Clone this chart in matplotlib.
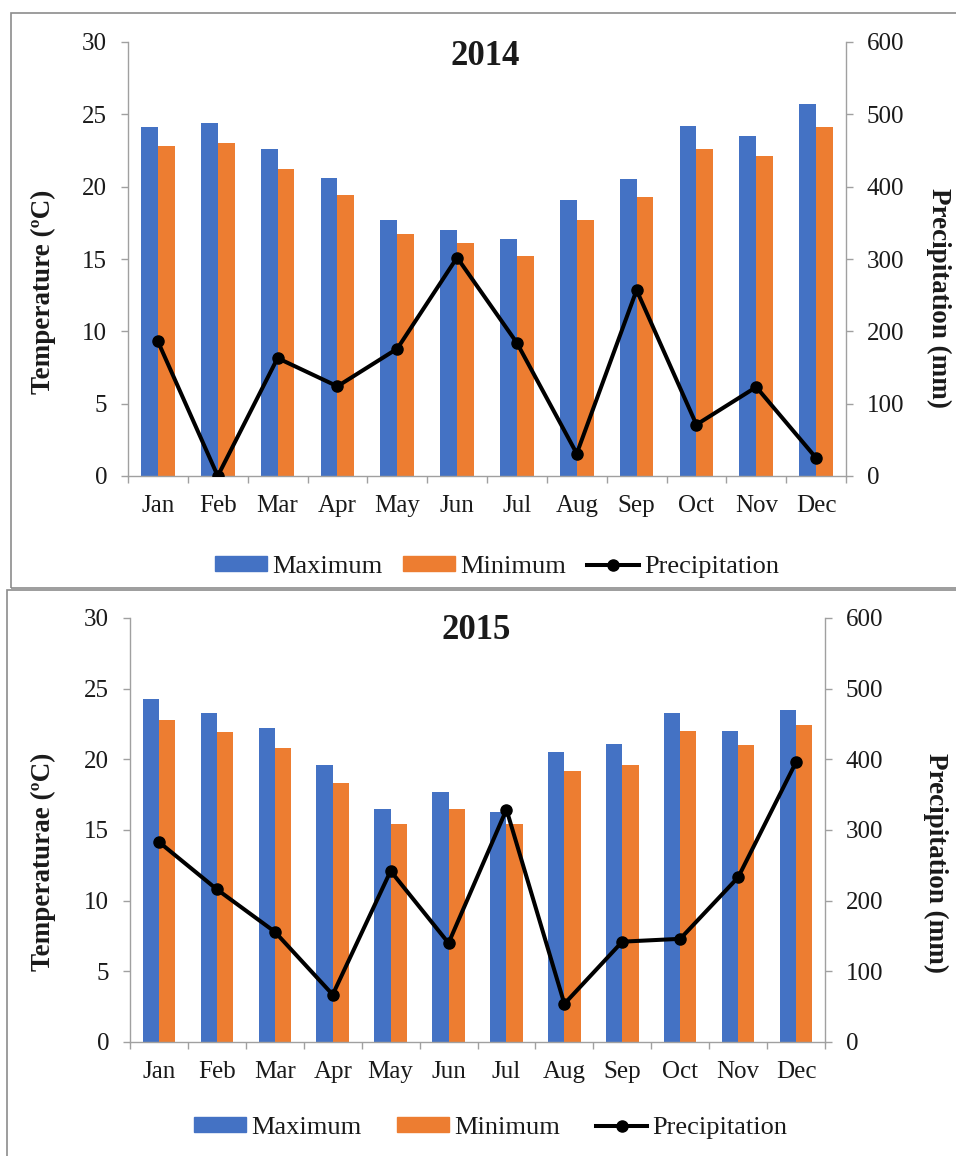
import matplotlib

matplotlib.use("Agg")
import matplotlib.lines as mlines
import matplotlib.patches as mpatches
import matplotlib.pyplot as plt
import numpy as np

MONTHS = ["Jan", "Feb", "Mar", "Apr", "May", "Jun", "Jul", "Aug", "Sep", "Oct", "Nov", "Dec"]

TMAX_2014 = [24.1, 24.4, 22.6, 20.6, 17.7, 17.0, 16.4, 19.1, 20.5, 24.2, 23.5, 25.7]
TMIN_2014 = [22.8, 23.0, 21.2, 19.4, 16.7, 16.1, 15.2, 17.7, 19.3, 22.6, 22.1, 24.1]
PREC_2014 = [186, 0, 163, 124, 176, 302, 184, 31, 257, 71, 123, 25]

TMAX_2015 = [24.3, 23.3, 22.2, 19.6, 16.5, 17.7, 16.3, 20.5, 21.1, 23.3, 22.0, 23.5]
TMIN_2015 = [22.8, 21.9, 20.8, 18.3, 15.4, 16.5, 15.4, 19.2, 19.6, 22.0, 21.0, 22.4]
PREC_2015 = [283, 216, 156, 67, 242, 140, 329, 54, 142, 146, 233, 396]

BLUE = "#4472C4"
ORANGE = "#ED7D31"
GRAY = "#a0a0a0"
TXT = "#1a1a1a"

W, H = 956, 1156
plt.rcParams["font.family"] = ["Liberation Serif", "DejaVu Serif"]


def fx(px):
    return px / W


def fy(py):
    return 1 - py / H


def fig_rect(x0, y0, x1, y1):
    # pixel box (top-left origin) -> figure fraction [left, bottom, width, height]
    return [x0 / W, 1 - y1 / H, (x1 - x0) / W, (y1 - y0) / H]


def draw_panel(fig, box, title, title_xy, ylabel, ylabel_xy, rlabel_xy,
               tmax, tmin, prec, legend_xy, colspace):
    ax = fig.add_axes(fig_rect(*box))
    x = np.arange(len(MONTHS))
    w = 0.28
    ax.bar(x - w / 2, tmax, w, color=BLUE, label="Maximum", zorder=2)
    ax.bar(x + w / 2, tmin, w, color=ORANGE, label="Minimum", zorder=2)
    ax.set_xlim(-0.5, 11.5)
    ax.set_ylim(0, 30)
    ax.set_yticks(range(0, 31, 5))
    ax.set_xticks(x)
    ax.set_xticklabels(MONTHS)
    ax.set_xticks(np.arange(-0.5, 12, 1), minor=True)
    ax.tick_params(axis="x", which="major", length=0, pad=14, labelsize=18, labelcolor=TXT)
    ax.tick_params(axis="x", which="minor", length=5, width=1, color=GRAY, direction="out")
    ax.tick_params(axis="y", length=5, width=1, color=GRAY, pad=10, labelsize=18, labelcolor=TXT)
    for s in ["top", "right"]:
        ax.spines[s].set_visible(False)
    for s in ["left", "bottom"]:
        ax.spines[s].set_color(GRAY)
        ax.spines[s].set_linewidth(1)

    ax2 = ax.twinx()
    ax2.plot(x, prec, color="black", lw=2.9, marker="o", markersize=8, zorder=3)
    ax2.set_ylim(0, 600)
    ax2.set_yticks(range(0, 601, 100))
    ax2.tick_params(axis="y", length=5, width=1, color=GRAY, pad=10, labelsize=18, labelcolor=TXT)
    for s in ["top", "left", "bottom"]:
        ax2.spines[s].set_visible(False)
    ax2.spines["right"].set_color(GRAY)
    ax2.spines["right"].set_linewidth(1)

    fig.text(fx(title_xy[0]), fy(title_xy[1]), title, fontsize=25, fontweight="bold",
             ha="center", va="baseline", color=TXT)
    fig.text(fx(ylabel_xy[0]), fy(ylabel_xy[1]), ylabel, fontsize=19.5, fontweight="bold",
             rotation=90, ha="center", va="center", color=TXT)
    fig.text(fx(rlabel_xy[0]), fy(rlabel_xy[1]), "Precipitation (mm)", fontsize=19.5,
             fontweight="bold", rotation=270, ha="center", va="center", color=TXT)

    handles = [
        mpatches.Patch(color=BLUE, label="Maximum"),
        mpatches.Patch(color=ORANGE, label="Minimum"),
        mlines.Line2D([], [], color="black", lw=2.9, marker="o", markersize=8, label="Precipitation"),
    ]
    fig.legend(handles=handles, loc="center", ncol=3, frameon=False, fontsize=19,
               bbox_to_anchor=(fx(legend_xy[0]), fy(legend_xy[1])),
               handlelength=1.95, handleheight=0.5, handletextpad=0.2, columnspacing=colspace,
               labelcolor=TXT)


fig = plt.figure(figsize=(W / 100, H / 100), dpi=100)

# panel frames
fig.patches.append(mpatches.Rectangle((fx(11), fy(588)), fx(960), 575 / H, transform=fig.transFigure,
                                      fill=False, edgecolor="#8c8c8c", lw=1.2))
fig.patches.append(mpatches.Rectangle((fx(7), -0.01), fx(960), (H - 590) / H + 0.01, transform=fig.transFigure,
                                      fill=False, edgecolor="#8c8c8c", lw=1.2))

draw_panel(fig, (128, 42, 846, 476), "2014", (485, 65), "Temperature (ºC)", (43, 292), (939, 298),
           TMAX_2014, TMIN_2014, PREC_2014, (497, 567), 0.8)
draw_panel(fig, (130, 618, 825, 1042), "2015", (476, 639), "Temperaturae (ºC)", (43, 862), (936, 863),
           TMAX_2015, TMIN_2015, PREC_2015, (491, 1128), 1.36)

fig.savefig("out.png", dpi=100)
